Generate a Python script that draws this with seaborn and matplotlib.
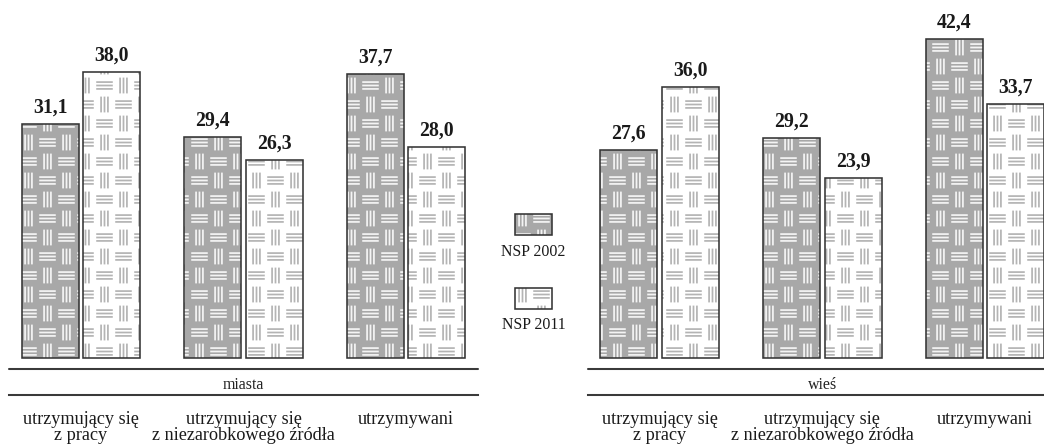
import numpy as np
import pandas as pd
import matplotlib
matplotlib.use("Agg")
import matplotlib.pyplot as plt
import matplotlib.hatch as mhatch
from matplotlib.path import Path
from matplotlib.patches import Rectangle
from matplotlib.colors import to_rgba
import seaborn as sns

# ---------------- data ----------------
categories = ["utrzymujący się\nz pracy",
              "utrzymujący się\nz niezarobkowego źródła",
              "utrzymywani"]
years = ["NSP 2002", "NSP 2011"]
miasta_2002 = [31.1, 29.4, 37.7]
miasta_2011 = [38.0, 26.3, 28.0]
wies_2002 = [27.6, 29.2, 42.4]
wies_2011 = [36.0, 23.9, 33.7]
panel_titles = ["miasta", "wieś"]

# ---------------- basket-weave hatch ----------------
class BasketWeave(mhatch.HatchPatternBase):
    def __init__(self, hatch, density):
        self.on = '*' in hatch
        self.cells = 6
        self.num_vertices = self.cells * self.cells * 6 if self.on else 0

    def set_vertices_and_codes(self, vertices, codes):
        n = self.cells
        c = 1.0 / n
        hh = 0.39 * c
        hv = 0.37 * c
        offs = [-0.18 * c, 0.0, 0.18 * c]
        k = 0
        for i in range(n):
            for j in range(n):
                cx, cy = (i + 0.5) * c, (j + 0.5) * c
                horiz = (i + j) % 2 == 0
                for o in offs:
                    if horiz:
                        vertices[k] = (cx - hh, cy + o)
                        vertices[k + 1] = (cx + hh, cy + o)
                    else:
                        vertices[k] = (cx + o, cy - hv)
                        vertices[k + 1] = (cx + o, cy + hv)
                    codes[k] = Path.MOVETO
                    codes[k + 1] = Path.LINETO
                    k += 2

mhatch._hatch_types = [BasketWeave] + [t for t in mhatch._hatch_types
                                       if t is not mhatch.Stars]

def set_hcolor(p, col):
    if hasattr(p, "set_hatchcolor"):
        p.set_hatchcolor(col)
    else:
        p._hatch_color = to_rgba(col)

# ---------------- style ----------------
sns.set_theme(style="white")
plt.rcParams["font.family"] = ["Liberation Serif", "DejaVu Serif"]
plt.rcParams["hatch.linewidth"] = 1.1

DPI = 114
fig = plt.figure(figsize=(1044 / DPI, 444 / DPI), dpi=DPI)

fill = {"NSP 2002": "#a8a8a8", "NSP 2011": "#ffffff"}
hcol = {"NSP 2002": "#f4f4f4", "NSP 2011": "#b4b4b4"}
edge = "#333333"
line_col = "#3a3a3a"

df = pd.DataFrame({
    "area": ["miasta"] * 6 + ["wieś"] * 6,
    "cat": categories * 4,
    "year": (["NSP 2002"] * 3 + ["NSP 2011"] * 3) * 2,
    "val": miasta_2002 + miasta_2011 + wies_2002 + wies_2011,
})

H = 444.0
axes_px = [(9, 478, (-0.443, 2.443)), (588, 1044, (-0.4393, 2.3625))]
ylim = (-4.914, 47.54)

for (x0, x1, xl), title in zip(axes_px, panel_titles):
    ax = fig.add_axes([x0 / 1044, 49 / H, (x1 - x0) / 1044, 395 / H])
    sub = df[df["area"] == title]
    sns.barplot(data=sub, x="cat", y="val", hue="year", hue_order=years,
                order=categories, palette=fill, width=0.76, gap=0.08,
                edgecolor=edge, linewidth=1.0, legend=False, ax=ax,
                errorbar=None)
    for cont, yr in zip(ax.containers, years):
        for p in cont:
            p.set_hatch("*")
            p.set_edgecolor(edge)
            set_hcolor(p, hcol[yr])
        vals = [pt.get_height() for pt in cont]
        ax.bar_label(cont, labels=[f"{v:.1f}".replace(".", ",") for v in vals],
                     padding=4, fontsize=12.5, fontweight="bold", color="#1a1a1a")
    ax.set_xlim(*xl)
    ax.set_ylim(*ylim)
    ax.axhline(-1.461, color=line_col, lw=1.3, clip_on=False)
    ax.text(1, -3.59, title, ha="center", va="center", fontsize=10,
            color="#222222")
    for s in ["left", "right", "top"]:
        ax.spines[s].set_visible(False)
    ax.spines["bottom"].set_color(line_col)
    ax.spines["bottom"].set_linewidth(1.3)
    ax.set_yticks([])
    ax.set_xlabel("")
    ax.set_ylabel("")
    ax.tick_params(axis="x", length=0, pad=10, labelsize=11.5,
                   labelcolor="#1a1a1a")
    for t in ax.get_xticklabels():
        t.set_linespacing(0.9)
    ax.patch.set_visible(False)

# ---------------- legend ----------------
leg_items = [(years[0], 214, 252), (years[1], 288, 325)]
for yr, top, ty in leg_items:
    r = Rectangle((515 / 1044, (H - top - 21) / H), 37 / 1044, 21 / H,
                  transform=fig.transFigure, facecolor=fill[yr],
                  edgecolor=edge, linewidth=1.0, hatch="*")
    set_hcolor(r, hcol[yr])
    fig.add_artist(r)
    fig.text(533.5 / 1044, (H - ty) / H, yr, ha="center", va="center",
             fontsize=10, color="#1a1a1a")

fig.savefig("out.png", dpi=DPI)
